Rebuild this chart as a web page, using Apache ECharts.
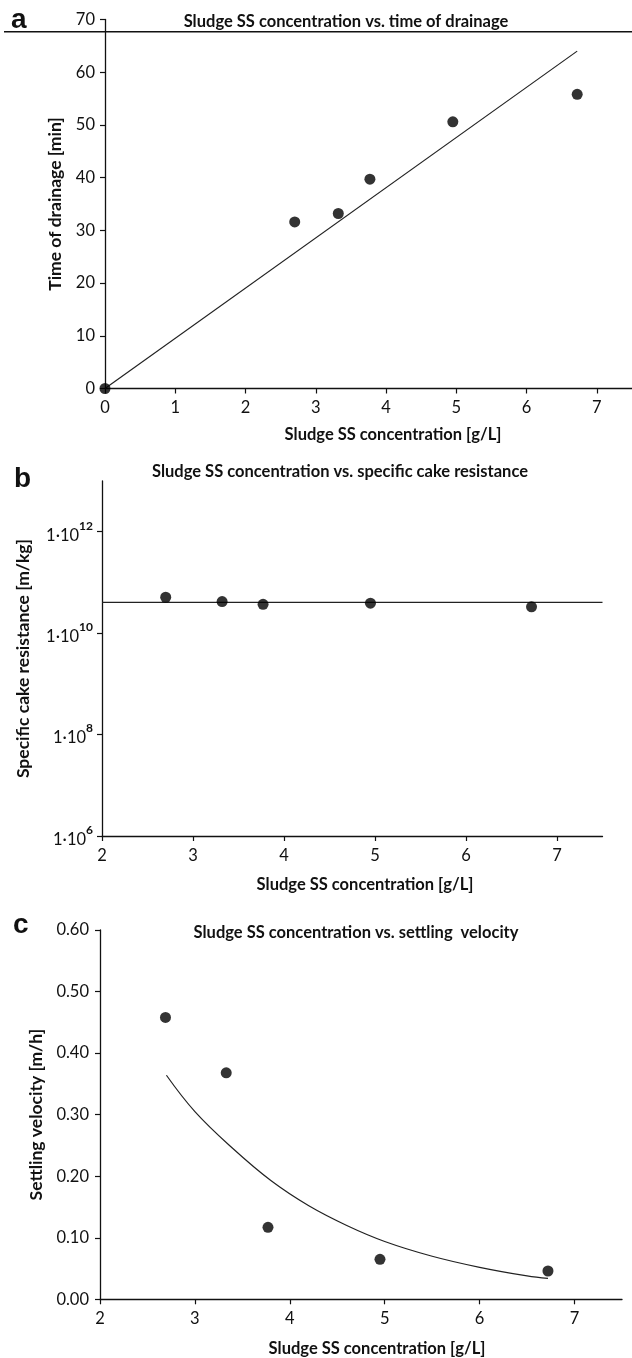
<!DOCTYPE html>
<html>
<head>
<meta charset="utf-8">
<script src="https://cdn.jsdelivr.net/npm/echarts@6/dist/echarts.min.js"></script>
<style>
  html, body { margin: 0; padding: 0; background: #fff; }
  #chart { width: 632px; height: 1358px; }
</style>
</head>
<body>
<div id="chart"></div>
<script>
// panel a - time of drainage
const concA = [0, 2.7, 3.32, 3.77, 4.95, 6.72];
const drainTime = [0, 31.6, 33.2, 39.7, 50.6, 55.8];
const drainFitX = [0, 6.72];
const drainFitY = [0, 64];

// panel b - specific cake resistance
const concB = [2.7, 3.32, 3.77, 4.95, 6.72];
const cakeRes = [5.1e10, 4.2e10, 3.7e10, 3.9e10, 3.3e10];
const cakeFitX = [2, 7.5];
const cakeFitY = [4.05e10, 4.05e10];

// panel c - settling velocity
const concC = [2.69, 3.33, 3.77, 4.95, 6.72];
const settleVel = [0.458, 0.368, 0.117, 0.065, 0.046];
const settleFitX = [2.7, 3.0, 3.4, 3.8, 4.2, 4.6, 5.0, 5.5, 6.0, 6.5, 6.72];
const settleFitY = [0.364, 0.305, 0.245, 0.193, 0.152, 0.120, 0.094, 0.070, 0.052, 0.038, 0.034];

// tick labels
const ticksA = [0, 1, 2, 3, 4, 5, 6, 7];
const ticksBC = [2, 3, 4, 5, 6, 7];
const ticksLog = [1e6, 1e8, 1e10, 1e12];

const FONT = 'Lato, "Open Sans", sans-serif';

function zip(xs, ys) {
    return xs.map((x, i) => [x, ys[i]]);
}

// shared axis look
function axisBase() {
    return {
        axisLine: {show: true, onZero: false, lineStyle: {color: '#111', width: 1.3}},
        axisTick: {show: true, inside: false, length: 5, lineStyle: {color: '#111', width: 1.2}},
        splitLine: {show: false},
        axisLabel: {color: '#111', fontFamily: FONT, fontSize: 16.5, margin: 10},
        nameTextStyle: {color: '#111', fontFamily: FONT, fontSize: 17.5, fontWeight: 'bold'}
    };
}

function xAxis(grid, min, max, ticks) {
    let ax = axisBase();
    ax.axisTick.customValues = ticks;
    return Object.assign(ax, {
        type: 'value', gridIndex: grid, min: min, max: max, interval: 1,
        axisLabel: Object.assign(ax.axisLabel, {customValues: ticks, margin: 11})
    });
}

let dots = (x, y, xi) => ({
    type: 'scatter', xAxisIndex: xi, yAxisIndex: xi, data: zip(x, y),
    symbol: 'circle', symbolSize: 11, itemStyle: {color: '#000'}, z: 3
});

let fit = (x, y, xi, smooth) => ({
    type: 'line', xAxisIndex: xi, yAxisIndex: xi, data: zip(x, y),
    showSymbol: false, smooth: smooth ? 0.4 : false,
    lineStyle: {color: '#222', width: 1.2}, z: 2
});

let titleText = (txt, x, y, size) => ({
    type: 'text', x: x, y: y,
    style: {text: txt, fill: '#111', font: 'bold ' + size + 'px ' + FONT, align: 'center', verticalAlign: 'middle'}
});

let panelLetter = (txt, x, y) => ({
    type: 'text', x: x, y: y,
    style: {text: txt, fill: '#111', font: 'bold 28px "Liberation Sans", Arial, sans-serif', align: 'left', verticalAlign: 'middle'}
});

let chart = echarts.init(document.getElementById('chart'), null, {renderer: 'canvas'});

let yA = axisBase();
let yB = axisBase();
let yC = axisBase();
yB.axisTick.customValues = ticksLog;

let option = {
    animation: false,
    backgroundColor: '#fff',
    grid: [
        // right end pushed past the page so the axis runs to the edge
        {left: 105, top: 19.5, width: 532, height: 369},
        {left: 102, top: 481, width: 500.5, height: 355},
        {left: 100, top: 930, width: 522, height: 369.3}
    ],
    xAxis: [
        xAxis(0, 0, 7.5, ticksA),
        xAxis(1, 2, 7.5, ticksBC),
        xAxis(2, 2, 7.5, ticksBC)
    ],
    yAxis: [
        Object.assign(yA, {
            type: 'value', gridIndex: 0, min: 0, max: 70, interval: 10,
            name: 'Time of drainage [min]', nameLocation: 'middle', nameGap: 41,
            axisLabel: Object.assign(yA.axisLabel, {margin: 10})
        }),
        Object.assign(yB, {
            type: 'log', logBase: 10, gridIndex: 1, min: 1e6, max: 1e13, interval: 2,
            name: 'Specific cake resistance [m/kg]', nameLocation: 'middle', nameGap: 70,
            axisLabel: Object.assign(yB.axisLabel, {
                margin: 9,
                customValues: ticksLog,
                formatter: function (v) {
                    let e = Math.round(Math.log10(v));
                    return '{b|1·10}{s|' + e + '}';
                },
                rich: {
                    b: {fontFamily: FONT, fontSize: 16.5, color: '#111', lineHeight: 24, verticalAlign: 'bottom'},
                    s: {fontFamily: FONT, fontSize: 12, fontWeight: 'bold', color: '#111', lineHeight: 24, verticalAlign: 'top', padding: [0, 0, 8, 0]}
                }
            })
        }),
        Object.assign(yC, {
            type: 'value', gridIndex: 2, min: 0, max: 0.6, interval: 0.1,
            name: 'Settling velocity [m/h]', nameLocation: 'middle', nameGap: 54,
            axisLabel: Object.assign(yC.axisLabel, {margin: 11, formatter: v => v.toFixed(2)})
        })
    ],
    series: [
        fit(drainFitX, drainFitY, 0, false),
        dots(concA, drainTime, 0),
        fit(cakeFitX, cakeFitY, 1, false),
        dots(concB, cakeRes, 1),
        fit(settleFitX, settleFitY, 2, true),
        dots(concC, settleVel, 2)
    ],
    graphic: [
        // header rule crossing the top of panel a
        {type: 'line', shape: {x1: 4, y1: 31.7, x2: 632, y2: 31.7}, style: {stroke: '#111', lineWidth: 1.5}, z: 10},
        panelLetter('a', 11, 20),
        panelLetter('b', 14, 479),
        panelLetter('c', 13, 925),
        titleText('Sludge SS concentration vs. time of drainage', 346, 22, 16.5),
        titleText('Sludge SS concentration vs. specific cake resistance', 340, 472, 16.5),
        titleText('Sludge SS concentration vs. settling  velocity', 356, 933, 16.5),
        titleText('Sludge SS concentration [g/L]', 393, 435, 16.5),
        titleText('Sludge SS concentration [g/L]', 365, 885, 16.5),
        titleText('Sludge SS concentration [g/L]', 377, 1349, 16.5)
    ]
};

chart.setOption(option);
</script>
</body>
</html>
